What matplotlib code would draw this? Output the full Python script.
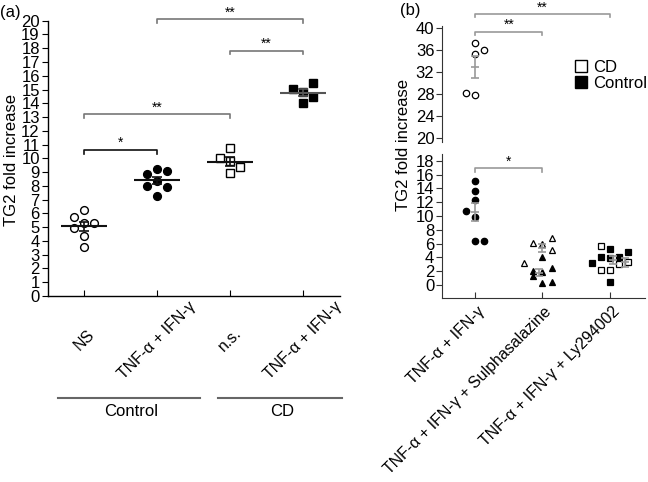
import numpy as np
import matplotlib
matplotlib.use('Agg')
import matplotlib.pyplot as plt
from matplotlib.lines import Line2D
from matplotlib.transforms import blended_transform_factory

plt.rcParams['font.family'] = ['Liberation Sans', 'DejaVu Sans']

# ---------------- Panel (a) data ----------------
a_categories = ['NS', 'TNF-α + IFN-γ', 'n.s.', 'TNF-α + IFN-γ']
a_groups = ['Control', 'CD']
a_ns_ctrl = [6.24, 5.77, 5.29, 5.29, 4.93, 4.33, 3.59]
a_tnf_ctrl = [8.88, 9.23, 9.07, 8.33, 8.01, 7.92, 7.30]
a_ns_cd = [10.72, 10.02, 9.83, 9.35, 8.92]
a_tnf_cd = [15.07, 14.83, 15.50, 14.47, 14.00]
a_yticks = list(range(0, 21))
a_sig = [(0, 1, 10.6, '*'), (0, 2, 13.2, '**'), (2, 3, 17.8, '**'), (1, 3, 20.1, '**')]

# jitter (in units of point spacing)
a_jit_ns_ctrl = [0, -1, 0, 1, -1, 0, 0]
a_jit_tnf_ctrl = [-1, 0, 1, 0, -1, 1, 0]
a_jit_ns_cd = [0, -1, 0, 1, 0]
a_jit_tnf_cd = [-1, 0, 1, 1, 0]
# group underline spans (layout, in category units)
a_group_spans = [(-0.36, 1.59), (1.84, 3.53)]

# ---------------- Panel (b) data ----------------
b_categories = ['TNF-α + IFN-γ', 'TNF-α + IFN-γ + Sulphasalazine', 'TNF-α + IFN-γ + Ly294002']
b_tnf_cd = [37.4, 35.3, 36.1, 28.3, 27.9]
b_tnf_ctrl = [15.1, 13.66, 12.3, 10.7, 9.8, 6.37, 6.37]
b_sul_cd = [6.03, 5.89, 6.76, 5.07, 3.14]
b_sul_ctrl = [4.1, 2.08, 1.83, 2.41, 1.30, 0.24, 0.48]
b_ly_cd = [5.65, 2.17, 2.17, 2.99, 3.38]
b_ly_ctrl = [3.14, 4.1, 5.21, 3.86, 4.1, 4.83, 0.48]
b_yticks_hi = [20, 24, 28, 32, 36, 40]
b_yticks_lo = [0, 2, 4, 6, 8, 10, 12, 14, 16, 18]
b_sig = [(0, 2, 42.5, '**', 'hi'), (0, 1, 39.3, '**', 'hi'), (0, 1, 16.9, '*', 'lo')]
legend_labels = ['CD', 'Control']

b_jit_tnf_cd = [0, 0, 1, -1, 0]
b_jit_tnf_ctrl = [0, 0, 0, -1, 0, 0, 1]
b_jit_sul_cd = [-1, 0, 1, 1, -2]
b_jit_sul_ctrl = [0, -1, 0, 1, -1, 0, 1]
b_jit_ly_cd = [-1, -1, 0, 1, 2]
b_jit_ly_ctrl = [-2, -1, 0, 0, 1, 2, 0]

J = 0.135
W, H = 648, 482

def sem(v):
    v = np.asarray(v, float)
    return v.std(ddof=1) / np.sqrt(len(v))

fig = plt.figure(figsize=(6.48, 4.82), dpi=100)

# ================= Panel (a) =================
axa = fig.add_axes([47.5 / W, 1 - 296 / H, 292 / W, 275.3 / H])
axa.set_xlim(-0.5, 3.5)
axa.set_ylim(0, 20)
for s in ['top', 'right']:
    axa.spines[s].set_visible(False)
for s in ['left', 'bottom']:
    axa.spines[s].set_linewidth(1.0)
axa.set_yticks(a_yticks)
axa.set_yticklabels([str(t) for t in a_yticks], fontsize=12)
axa.tick_params(axis='y', direction='out', length=4, pad=1.5)
axa.set_xticks(range(len(a_categories)))
axa.set_xticklabels([])
axa.tick_params(axis='x', direction='in', length=4)

a_series = [
    (0, a_ns_ctrl, a_jit_ns_ctrl, 'o', 'white', '#111'),
    (1, a_tnf_ctrl, a_jit_tnf_ctrl, 'o', 'black', '#111'),
    (2, a_ns_cd, a_jit_ns_cd, 's', 'white', '#111'),
    (3, a_tnf_cd, a_jit_tnf_cd, 's', 'black', '#555'),
]
for cx, vals, jit, mk, fc, lc in a_series:
    xs = cx + np.array(jit) * J
    axa.plot(xs, vals, ls='none', marker=mk, ms=5.6, mfc=fc, mec='black', mew=1.0, zorder=3)
    m = np.mean(vals)
    axa.hlines(m, cx - 0.32, cx + 0.32, color=lc, lw=1.5, zorder=4)
    axa.errorbar(cx, m, yerr=sem(vals), fmt='none', ecolor=lc, elinewidth=1.2, capsize=3.5, capthick=1.2, zorder=4)

for x1, x2, y, star in a_sig:
    col = '#111' if star == '*' else '#777'
    axa.plot([x1, x1, x2, x2], [y - 0.25, y, y, y - 0.25], color=col, lw=1.2, clip_on=False)
    axa.annotate(star, xy=((x1 + x2) / 2, y), xytext=(0, 5), textcoords='offset points',
                 ha='center', va='center', fontsize=10, annotation_clip=False)

ta = blended_transform_factory(axa.transData, fig.transFigure)
for i, lab in enumerate(a_categories):
    axa.text(i, 1 - 340 / H, lab, rotation=45, ha='center', va='center', fontsize=11.5, transform=ta)

for g, (s0, s1) in zip(a_groups, a_group_spans):
    axa.plot([s0, s1], [1 - 398 / H] * 2, color='#666', lw=1.5, transform=ta, clip_on=False)
    axa.text((s0 + s1) / 2 + 0.03, 1 - 412 / H, g, ha='center', va='center', fontsize=12, transform=ta)

fig.text(12 / W, 1 - 160 / H, 'TG2 fold increase', rotation=90, ha='center', va='center', fontsize=12)
fig.text(0, 1 - 12 / H, '(a)', ha='left', va='center', fontsize=12)

# ================= Panel (b) =================
axlo = fig.add_axes([442 / W, 1 - 298 / H, 203 / W, 144 / H])
axhi = fig.add_axes([442 / W, 1 - 141.7 / H, 203 / W, 115.7 / H])
spc = '#333'
for ax in (axlo, axhi):
    ax.set_xlim(-0.49, 2.52)
    for s in ['top', 'right']:
        ax.spines[s].set_visible(False)
    ax.spines['left'].set_color(spc)
    ax.tick_params(axis='y', direction='out', length=4, pad=1.5, colors=spc, labelcolor='black')
axhi.spines['bottom'].set_visible(False)
axhi.set_xticks([])
axlo.spines['bottom'].set_color(spc)
axlo.set_ylim(-1.9, 19)
axhi.set_ylim(19.4, 40.4)
axlo.set_yticks(b_yticks_lo)
axlo.set_yticklabels([str(t) for t in b_yticks_lo], fontsize=12)
axhi.set_yticks(b_yticks_hi)
axhi.set_yticklabels([str(t) for t in b_yticks_hi], fontsize=12)
axlo.set_xticks(range(len(b_categories)))
axlo.set_xticklabels([])
axlo.tick_params(axis='x', direction='in', length=4, colors=spc)

b_series = [
    (0, b_tnf_cd, b_jit_tnf_cd, 'o', 'white', 4.6, 0.0),
    (0, b_tnf_ctrl, b_jit_tnf_ctrl, 'o', 'black', 4.6, 0.0),
    (1, b_sul_cd, b_jit_sul_cd, '^', 'white', 5.0, 0.0),
    (1, b_sul_ctrl, b_jit_sul_ctrl, '^', 'black', 5.0, -0.05),
    (2, b_ly_cd, b_jit_ly_cd, 's', 'white', 4.8, 0.22),
    (2, b_ly_ctrl, b_jit_ly_ctrl, 's', 'black', 4.8, 0.05),
]
for cx, vals, jit, mk, fc, ms, eoff in b_series:
    xs = cx + np.array(jit) * J
    m = np.mean(vals)
    for ax in (axlo, axhi):
        ax.plot(xs, vals, ls='none', marker=mk, ms=ms, mfc=fc, mec='black', mew=0.9, zorder=3)
        ax.errorbar(cx + eoff, m, yerr=sem(vals), fmt='_', color='#999', ms=6, mew=1.2,
                    elinewidth=1.2, capsize=3, capthick=1.2, zorder=4)

for x1, x2, y, star, which in b_sig:
    ax = axhi if which == 'hi' else axlo
    dt = 0.5
    ax.plot([x1, x1, x2, x2], [y - dt, y, y, y - dt], color='#999', lw=1.2, clip_on=False)
    ax.annotate(star, xy=((x1 + x2) / 2, y), xytext=(0, 5), textcoords='offset points',
                ha='center', va='center', fontsize=10, annotation_clip=False)

tb = blended_transform_factory(axlo.transData, fig.transFigure)
for i, lab in enumerate(b_categories):
    axlo.text(i + 0.18, 1 - 304 / H, lab, rotation=45, ha='right', va='top', fontsize=11.5, transform=tb)

handles = [Line2D([], [], ls='none', marker='s', ms=8, mfc='white', mec='black', mew=1.0),
           Line2D([], [], ls='none', marker='s', ms=8, mfc='black', mec='black', mew=1.0)]
fig.legend(handles, legend_labels, loc='upper left', bbox_to_anchor=(574 / W, 1 - 60 / H),
           frameon=False, fontsize=12, handlelength=0.8, handletextpad=0.35, labelspacing=0.05,
           borderpad=0, borderaxespad=0)

fig.text(403 / W, 1 - 145 / H, 'TG2 fold increase', rotation=90, ha='center', va='center', fontsize=12)
fig.text(400 / W, 1 - 11 / H, '(b)', ha='left', va='center', fontsize=12)

fig.savefig('out.png', dpi=100)
